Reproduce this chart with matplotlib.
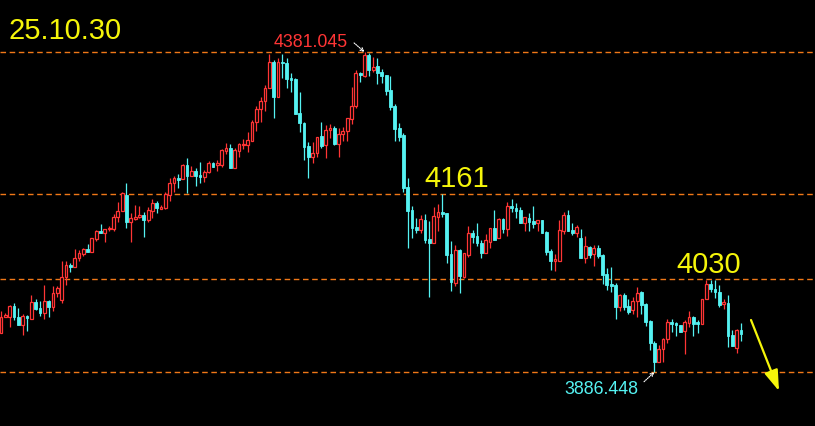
import numpy as np
import matplotlib.pyplot as plt

# OHLC (one candle per bar, oldest first)
opens = [3947, 3971, 3971, 3988, 3971, 3959, 3973, 3968, 3995, 3985,
         3978, 3996, 3987, 4008, 3998, 4033, 4052, 4049, 4063, 4069,
         4076, 4072, 4092, 4104, 4101, 4107, 4107, 4126, 4135, 4160,
         4118, 4123, 4126, 4129, 4121, 4135, 4148, 4138, 4140, 4160,
         4179, 4186, 4185, 4206, 4189, 4197, 4191, 4188, 4196, 4210,
         4206, 4206, 4228, 4233, 4202, 4228, 4237, 4237, 4244, 4273,
         4293, 4305, 4325, 4366, 4312, 4366, 4364, 4341, 4339, 4287,
         4271, 4236, 4219, 4225, 4251, 4237, 4261, 4264, 4239, 4254,
         4259, 4278, 4298, 4349, 4344, 4376, 4353, 4359, 4350, 4346,
         4322, 4298, 4264, 4253, 4172, 4137, 4111, 4106, 4121, 4092,
         4086, 4126, 4134, 4132, 4069, 4024, 4075, 4033, 4067, 4101,
         4097, 4086, 4070, 4087, 4109, 4094, 4123, 4107, 4143, 4140,
         4137, 4117, 4124, 4120, 4117, 4121, 4103, 4073, 4058, 4058,
         4104, 4129, 4106, 4101, 4094, 4063, 4080, 4069, 4078, 4067,
         4038, 4022, 4021, 3987, 4005, 3988, 3982, 3996, 4010, 3992,
         3965, 3931, 3902, 3922, 3937, 3964, 3962, 3959, 3950, 3962,
         3971, 3964, 3961, 3999, 4022, 4015, 4010, 3992, 3993, 3944,
         3923, 3951]
highs = [3981, 3978, 3990, 3993, 3985, 3976, 3974, 4005, 3999, 3996,
         4021, 3998, 4019, 4019, 4058, 4058, 4055, 4076, 4075, 4078,
         4084, 4094, 4106, 4115, 4107, 4112, 4131, 4149, 4165, 4179,
         4132, 4145, 4143, 4134, 4141, 4154, 4151, 4145, 4165, 4186,
         4189, 4193, 4208, 4217, 4205, 4202, 4211, 4199, 4213, 4211,
         4214, 4231, 4240, 4239, 4233, 4240, 4247, 4257, 4276, 4298,
         4312, 4330, 4378, 4369, 4372, 4378, 4372, 4349, 4341, 4319,
         4273, 4242, 4242, 4250, 4273, 4268, 4270, 4267, 4264, 4265,
         4279, 4327, 4353, 4350, 4381.045, 4380, 4373, 4372, 4355, 4346,
         4344, 4301, 4271, 4256, 4186, 4143, 4124, 4129, 4131, 4120,
         4141, 4146, 4162, 4132, 4089, 4083, 4077, 4070, 4112, 4106,
         4117, 4090, 4100, 4109, 4137, 4124, 4124, 4149, 4154, 4148,
         4141, 4126, 4132, 4143, 4121, 4121, 4104, 4076, 4069, 4121,
         4134, 4137, 4117, 4114, 4107, 4097, 4081, 4083, 4083, 4069,
         4047, 4049, 4024, 4007, 4009, 3999, 4002, 4018, 4012, 3993,
         3967, 3934, 3928, 3939, 3968, 3968, 3964, 3959, 3967, 3981,
         3973, 3967, 3999, 4029, 4029, 4029, 4021, 3999, 4005, 3951,
         3953, 3962]
lows = [3947, 3971, 3956, 3967, 3959, 3944, 3950, 3968, 3982, 3973,
        3968, 3971, 3981, 4002, 3993, 4021, 4041, 4049, 4058, 4066,
        4072, 4072, 4089, 4101, 4087, 4104, 4104, 4118, 4135, 4109,
        4087, 4121, 4124, 4095, 4118, 4124, 4132, 4138, 4138, 4151,
        4165, 4171, 4185, 4163, 4189, 4174, 4179, 4180, 4194, 4203,
        4197, 4203, 4223, 4202, 4202, 4219, 4231, 4227, 4244, 4259,
        4273, 4290, 4325, 4279, 4312, 4341, 4325, 4319, 4285, 4257,
        4214, 4186, 4210, 4219, 4233, 4217, 4248, 4237, 4219, 4244,
        4244, 4270, 4295, 4335, 4342, 4344, 4350, 4332, 4333, 4315,
        4291, 4244, 4244, 4165, 4078, 4094, 4101, 4101, 4086, 4002,
        4086, 4104, 4126, 4055, 4012, 4019, 4009, 4032, 4064, 4086,
        4081, 4063, 4070, 4078, 4090, 4094, 4101, 4097, 4134, 4124,
        4117, 4104, 4104, 4109, 4104, 4101, 4067, 4044, 4042, 4058,
        4100, 4104, 4098, 4095, 4063, 4055, 4063, 4050, 4063, 4022,
        4013, 4010, 3968, 3981, 3982, 3976, 3976, 3971, 3976, 3958,
        3920, 3886.448, 3902, 3902, 3931, 3948, 3942, 3948, 3914, 3956,
        3942, 3947, 3961, 3999, 4010, 4001, 3987, 3984, 3925, 3927,
        3916, 3934]
closes = [3971, 3974, 3988, 3971, 3959, 3973, 3970, 3995, 3984, 3978,
          3996, 3987, 4008, 4016, 4033, 4052, 4049, 4063, 4070, 4076,
          4072, 4094, 4104, 4101, 4107, 4109, 4126, 4135, 4163, 4118,
          4124, 4126, 4129, 4121, 4137, 4148, 4140, 4141, 4162, 4179,
          4186, 4183, 4206, 4189, 4197, 4189, 4188, 4196, 4210, 4203,
          4210, 4230, 4233, 4202, 4230, 4239, 4239, 4245, 4273, 4293,
          4305, 4325, 4366, 4312, 4366, 4364, 4339, 4338, 4285, 4271,
          4234, 4219, 4225, 4250, 4236, 4261, 4264, 4239, 4254, 4259,
          4279, 4298, 4349, 4346, 4376, 4353, 4358, 4349, 4344, 4321,
          4296, 4262, 4250, 4171, 4135, 4109, 4106, 4123, 4090, 4086,
          4128, 4134, 4131, 4067, 4026, 4075, 4035, 4070, 4101, 4095,
          4086, 4070, 4090, 4109, 4090, 4123, 4107, 4143, 4140, 4135,
          4117, 4126, 4118, 4115, 4121, 4101, 4072, 4058, 4061, 4106,
          4129, 4104, 4101, 4111, 4063, 4081, 4067, 4078, 4066, 4036,
          4021, 4019, 3987, 4005, 3987, 3979, 3996, 4009, 3990, 3964,
          3931, 3902, 3922, 3937, 3964, 3961, 3959, 3948, 3964, 3971,
          3961, 3961, 3999, 4022, 4015, 4010, 3990, 3995, 3942, 3927,
          3951, 3945]

levels = [4381.045, 4161, 4030, 3886.448]
level_labels = ['4161', '4030']
date_label = '25.10.30'
high_label = '4381.045'
low_label = '3886.448'

UP = '#ff3535'
DOWN = '#55f2f2'
LEVEL = '#f07818'
YELLOW = '#f5f50a'

o = np.array(opens, dtype=float)
h = np.array(highs, dtype=float)
l = np.array(lows, dtype=float)
c = np.array(closes, dtype=float)
x = np.arange(len(o))
up = c >= o

fig = plt.figure(figsize=(8.15, 4.26), dpi=100, facecolor='black')
ax = fig.add_axes([0, 0, 1, 1], facecolor='black')
ax.set_xlim(-0.23, 188.1)
ax.set_ylim(3803.0, 4461.4)
ax.axis('off')

# support / resistance levels
for lv in levels:
    ax.axhline(lv, color=LEVEL, lw=1.0, ls=(0, (4, 2.6)), zorder=1)

# wicks
ax.vlines(x[up], l[up], h[up], color=UP, lw=0.9, zorder=2)
ax.vlines(x[~up], l[~up], h[~up], color=DOWN, lw=0.9, zorder=2)

# bodies: hollow red for up, filled cyan for down
w = 0.64
body_up = np.maximum(c[up] - o[up], 0.8)
ax.bar(x[up], body_up, bottom=o[up], width=w, facecolor='black',
       edgecolor=UP, linewidth=0.9, zorder=3)
body_dn = np.maximum(o[~up] - c[~up], 0.8)
ax.bar(x[~up], body_dn, bottom=c[~up], width=w, facecolor=DOWN,
       edgecolor=DOWN, linewidth=0.6, zorder=3)

# labels
ax.text(9 / 815, 1 - 39 / 426, date_label, transform=ax.transAxes,
        color=YELLOW, fontsize=21, family='Liberation Sans', va='baseline')
ax.text(424 / 815, 1 - 187 / 426, level_labels[0], transform=ax.transAxes,
        color=YELLOW, fontsize=21, family='Liberation Sans', va='baseline')
ax.text(676 / 815, 1 - 273 / 426, level_labels[1], transform=ax.transAxes,
        color=YELLOW, fontsize=21, family='Liberation Sans', va='baseline')

ih = int(np.argmax(h))
il = int(np.argmin(l))
ax.text(274 / 815, 1 - 47 / 426, high_label, transform=ax.transAxes,
        color=UP, fontsize=12.8, family='Liberation Sans', va='baseline')
ax.annotate('', xy=(x[ih], h[ih]), xytext=(-7.5, 6.5), textcoords='offset points',
            arrowprops=dict(arrowstyle='->', color='white', lw=0.8, ls=(0, (1, 1)),
                            shrinkA=0, shrinkB=0, mutation_scale=6))
ax.text(564 / 815, 1 - 394 / 426, low_label, transform=ax.transAxes,
        color=DOWN, fontsize=12.8, family='Liberation Sans', va='baseline')
ax.annotate('', xy=(x[il], l[il]), xytext=(-7.5, -7), textcoords='offset points',
            arrowprops=dict(arrowstyle='->', color='white', lw=0.8, ls=(0, (1, 1)),
                            shrinkA=0, shrinkB=0, mutation_scale=6))

# projected move
ax.annotate('', xy=(779 / 815, 1 - 391 / 426), xytext=(751 / 815, 1 - 320 / 426),
            xycoords='axes fraction', textcoords='axes fraction',
            arrowprops=dict(arrowstyle='-|>,head_length=0.9,head_width=0.3',
                            color=YELLOW, lw=1.6, mutation_scale=14,
                            shrinkA=0, shrinkB=0))

fig.savefig('out.png', dpi=100, facecolor='black')
